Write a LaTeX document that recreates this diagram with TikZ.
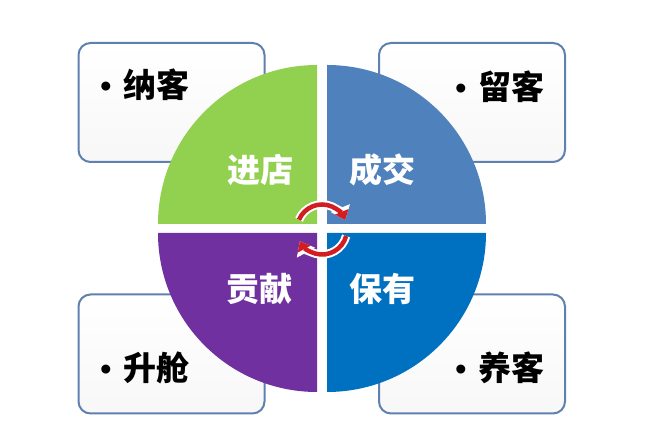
\documentclass[tikz,border=0pt]{standalone}
\usepackage{fontspec}
\setmainfont{Liberation Sans}
\newfontfamily\cjk{Noto Sans CJK SC}
\usetikzlibrary{arrows.meta}
\definecolor{qgreen}{RGB}{146,208,80}
\definecolor{qblue}{RGB}{79,129,189}
\definecolor{qpurple}{RGB}{112,48,160}
\definecolor{qdblue}{RGB}{0,112,192}
\definecolor{boxline}{RGB}{96,128,176}
\definecolor{turnred}{RGB}{210,30,35}
\newcommand{\dotitem}[1]{{\fontsize{33}{36}\selectfont\textbullet}\hspace{12pt}{\cjk\bfseries #1}}

\begin{document}
\begin{tikzpicture}[x=1pt,y=1pt,
    card/.style={shape=rectangle,rounded corners=12pt,draw=boxline,line width=2pt,top color=white,bottom color=gray!6,minimum width=186pt,minimum height=119pt},
    item/.style={text=black,font=\fontsize{33}{36}\selectfont},
    stage/.style={text=white,font=\cjk\bfseries\fontsize{33}{36}\selectfont},
    turn/.style={draw=turnred,line width=4.5pt,-{Triangle[length=9pt,width=14pt]},
      preaction={draw=white,line width=8.5pt,-{Triangle[length=13pt,width=20pt]}}}]
    \useasboundingbox (0,0) rectangle (661,446);

    \node[card] (A) at (171.5,343.5) {};
    \node[card] (B) at (472,343.5) {};
    \node[card] (C) at (171.5,92) {};
    \node[card] (D) at (472,92) {};
    \node[item] (NK) at (145,361) {\dotitem{纳客}};
    \node[item] (LK) at (500,359) {\dotitem{留客}};
    \node[item] (SC) at (145,78) {\dotitem{升舱}};
    \node[item] (YK) at (500,78) {\dotitem{养客}};

    % the four quarters
    \fill[qgreen] (317,222) -- ++(180:159) arc[start angle=180,end angle=90,radius=159] -- cycle;
    \fill[qblue] (327,222) -- ++(0:159) arc[start angle=0,end angle=90,radius=159] -- cycle;
    \fill[qpurple] (317,213) -- ++(180:159) arc[start angle=180,end angle=270,radius=159] -- cycle;
    \fill[qdblue] (327,213) -- ++(0:159) arc[start angle=0,end angle=-90,radius=159] -- cycle;

    \node[stage] (JD) at (260,276) {进店};
    \node[stage] (CJ) at (382,276) {成交};
    \node[stage] (GX) at (259,157) {贡献};
    \node[stage] (BY) at (382,157) {保有};

    \coordinate (O) at (322,216.5);
    \draw[turn] ([shift={(157:25)}]O) arc[start angle=157,end angle=22,radius=25];
    \draw[turn] ([shift={(-15:25)}]O) arc[start angle=-15,end angle=-152,radius=25];
\end{tikzpicture}
\end{document}
